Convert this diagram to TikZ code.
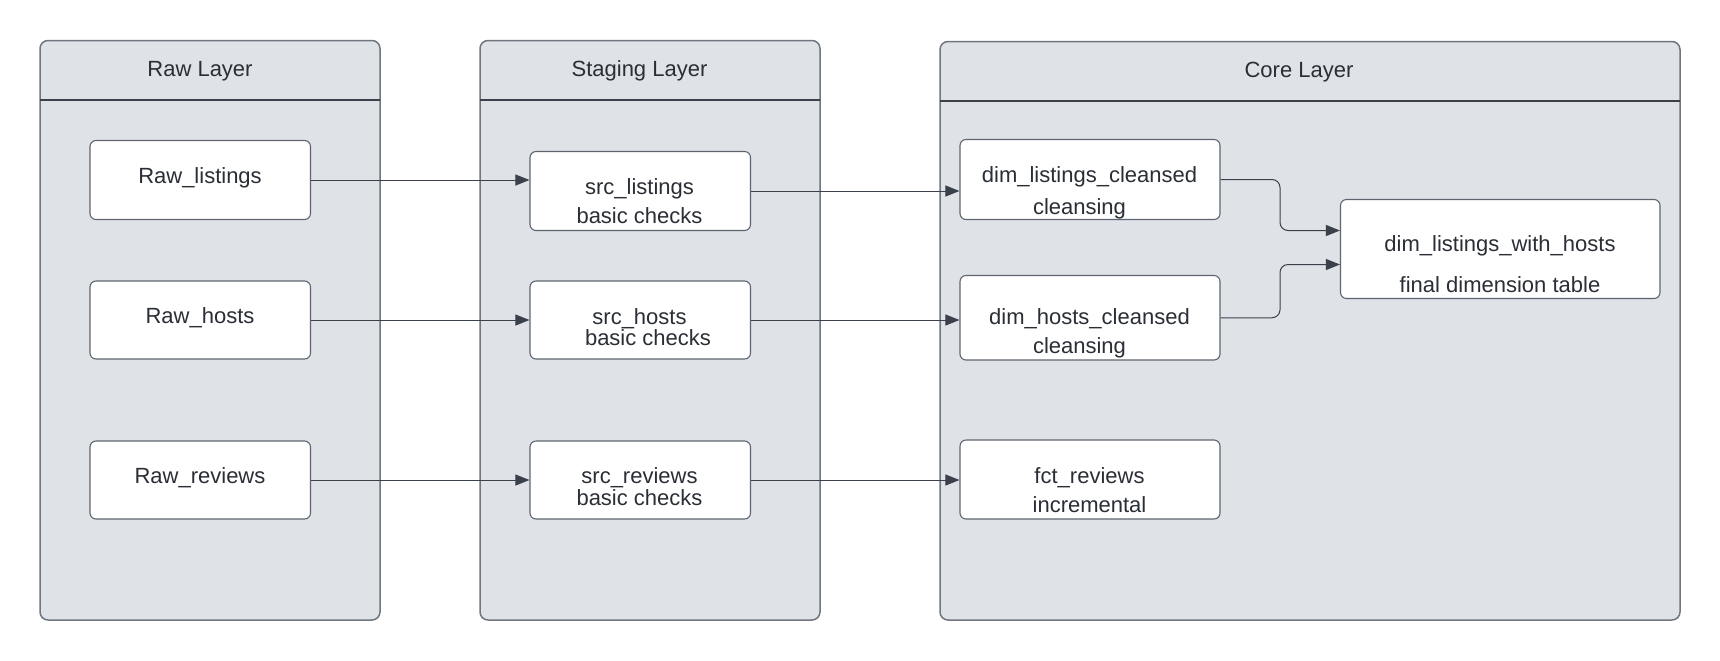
\documentclass[tikz,border=0pt]{standalone}
\usepackage{fontspec}
\setmainfont{Liberation Sans}
\usetikzlibrary{arrows.meta,fit,calc}
\definecolor{contfill}{HTML}{DFE2E7}
\definecolor{contdraw}{HTML}{70767F}
\definecolor{hdrline}{HTML}{3A414A}
\definecolor{boxdraw}{HTML}{5F6570}
\definecolor{txt}{HTML}{2A2E35}
\definecolor{arr}{HTML}{3A414A}
\begin{document}
\begin{tikzpicture}[x=0.5pt,y=-0.5pt,
  container/.style={draw=contdraw,fill=contfill,line width=0.75pt,rounded corners=4pt,inner sep=0pt},
  hline/.style={draw=hdrline,line width=0.6pt},
  nodebox/.style={draw=boxdraw,fill=white,line width=0.55pt,rounded corners=3pt,inner sep=0pt},
  lbl/.style={text=txt,font=\fontsize{11}{13}\selectfont,inner sep=0pt,text height=0.72em,text depth=0.21em,yshift=-1.1pt},
  arrow/.style={draw=arr,line width=0.5pt,-{Triangle[length=7pt,width=5.5pt]}}]
\useasboundingbox (0,0) rectangle (1720,660);
% containers
\node[container,fit={(40,40.5) (380,620)}] (rawc) {};
\node[container,fit={(480,40.5) (820,620)}] (stgc) {};
\node[container,fit={(940,41.5) (1680,620)}] (corec) {};
\draw[hline] (40,100) -- (380,100);
\draw[hline] (480,100) -- (820,100);
\draw[hline] (940,101) -- (1680,101);
\node[lbl] (rawt) at (200,69) {Raw Layer};
\node[lbl] (stgt) at (639.5,69) {Staging Layer};
\node[lbl] (coret) at (1299,70) {Core Layer};
% raw nodes
\node[nodebox,fit={(90,140.5) (310.5,219.5)}] (rawl) {};
\node[nodebox,fit={(90,281) (310.5,359)}] (rawh) {};
\node[nodebox,fit={(90,441) (310.5,519)}] (rawr) {};
\node[lbl] at (200,176.5) {Raw\_listings};
\node[lbl] at (200,316) {Raw\_hosts};
\node[lbl] at (200,476) {Raw\_reviews};
% staging nodes
\node[nodebox,fit={(530,151.5) (750.5,230.5)}] (srcl) {};
\node[nodebox,fit={(530,281) (750.5,359)}] (srch) {};
\node[nodebox,fit={(530,441) (750.5,519)}] (srcr) {};
\node[lbl] at (639.5,187.5) {src\_listings};
\node[lbl] at (639.5,216) {basic checks};
\node[lbl] at (639.5,317) {src\_hosts};
\node[lbl] at (648,338) {basic checks};
\node[lbl] at (639.5,476) {src\_reviews};
\node[lbl] at (639.5,498) {basic checks};
% core nodes
\node[nodebox,fit={(960,139.5) (1220,219.5)}] (diml) {};
\node[nodebox,fit={(960,275.5) (1220,360)}] (dimh) {};
\node[nodebox,fit={(960,440) (1220,519)}] (fctr) {};
\node[nodebox,fit={(1340.5,199.5) (1660,298.5)}] (lwh) {};
\node[lbl] at (1089.5,175.5) {dim\_listings\_cleansed};
\node[lbl] at (1079.5,207.5) {cleansing};
\node[lbl] at (1089.5,317) {dim\_hosts\_cleansed};
\node[lbl] at (1079.5,346.5) {cleansing};
\node[lbl] at (1089.5,476) {fct\_reviews};
\node[lbl] at (1089.5,505.5) {incremental};
\node[lbl] at (1500,244.5) {dim\_listings\_with\_hosts};
\node[lbl] at (1500,285) {final dimension table};
% connectors
\draw[arrow] (rawl.east) -- (rawl.east -| srcl.west);
\draw[arrow] (rawh.east) -- (rawh.east -| srch.west);
\draw[arrow] (rawr.east) -- (rawr.east -| srcr.west);
\draw[arrow] (srcl.east) -- (srcl.east -| diml.west);
\draw[arrow] (srch.east) -- (srch.east -| dimh.west);
\draw[arrow] (srcr.east) -- (srcr.east -| fctr.west);
\draw[arrow,rounded corners=4pt] (diml.east) -| (1280,230.5) -- (lwh.west |- 0,230.5);
\draw[arrow,rounded corners=4pt] (dimh.east) -| (1280,264.5) -- (lwh.west |- 0,264.5);
\end{tikzpicture}
\end{document}
